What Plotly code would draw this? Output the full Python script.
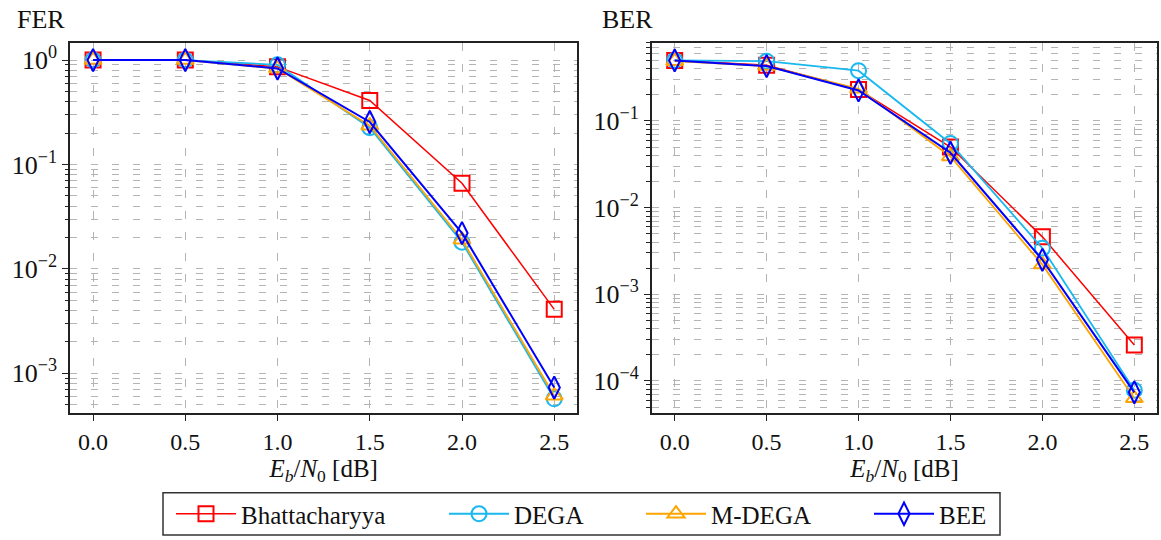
import plotly.graph_objects as go

W, H = 1161, 540

ebn0 = [0.0, 0.5, 1.0, 1.5, 2.0, 2.5]
x_ticks = [0.0, 0.5, 1.0, 1.5, 2.0, 2.5]
x_ticktext = ["0.0", "0.5", "1.0", "1.5", "2.0", "2.5"]

fer_bhatt = [1.0, 1.0, 0.86, 0.41, 0.066, 0.0041]
fer_dega = [1.0, 1.0, 0.90, 0.225, 0.018, 0.00057]
fer_mdega = [1.0, 1.0, 0.83, 0.235, 0.019, 0.00061]
fer_bee = [1.0, 1.0, 0.83, 0.255, 0.022, 0.00073]

ber_bhatt = [0.50, 0.44, 0.23, 0.050, 0.0046, 0.00026]
ber_dega = [0.50, 0.49, 0.38, 0.055, 0.0034, 0.000078]
ber_mdega = [0.49, 0.43, 0.235, 0.039, 0.0022, 0.000063]
ber_bee = [0.50, 0.43, 0.225, 0.043, 0.0025, 0.000074]

names = ["Bhattacharyya", "DEGA", "M-DEGA", "BEE"]
colors = ["#ff0000", "#1ab8f0", "#ffa500", "#0000ff"]
symbols = ["square-open", "circle-open", "triangle-up-open", "diamond-tall-open"]
sizes = [15, 15, 15, 16]
widths = [1.5, 1.8, 1.8, 2.0]

fer_ticks = [1, 0.1, 0.01, 0.001]
fer_ticktext = ["10<sup>0</sup>", "10<sup>−1</sup>", "10<sup>−2</sup>", "10<sup>−3</sup>"]
ber_ticks = [0.1, 0.01, 0.001, 0.0001]
ber_ticktext = ["10<sup>−1</sup>", "10<sup>−2</sup>", "10<sup>−3</sup>", "10<sup>−4</sup>"]
decades = [1e-5, 1e-4, 1e-3, 1e-2, 1e-1, 1]
digits = [2, 3, 4, 5, 6, 7, 8, 9]
minor_vals = [d * m for d in decades for m in digits]

FONT = "Liberation Serif"
GRID = "#b4b4b4"

fig = go.Figure()
fer_series = [fer_bhatt, fer_dega, fer_mdega, fer_bee]
ber_series = [ber_bhatt, ber_dega, ber_mdega, ber_bee]
legend_ids = ["legend", "legend2", "legend3", "legend4"]
for i in range(4):
    fig.add_trace(go.Scatter(
        x=ebn0, y=fer_series[i], name=names[i], mode="lines+markers",
        line=dict(color=colors[i], width=widths[i]),
        marker=dict(symbol=symbols[i], size=sizes[i], color=colors[i],
                    line=dict(width=2, color=colors[i])),
        xaxis="x", yaxis="y", legend=legend_ids[i], showlegend=True))
for i in range(4):
    fig.add_trace(go.Scatter(
        x=ebn0, y=ber_series[i], name=names[i], mode="lines+markers",
        line=dict(color=colors[i], width=widths[i]),
        marker=dict(symbol=symbols[i], size=sizes[i], color=colors[i],
                    line=dict(width=2, color=colors[i])),
        xaxis="x2", yaxis="y2", showlegend=False))

xlabel = "<i>E</i><sub><i>b</i></sub>/<i>N</i><sub>0</sub> [dB]"

def xaxis_cfg(domain, anchor):
    return dict(
        domain=domain, anchor=anchor, range=[-0.125, 2.625],
        tickmode="array", tickvals=x_ticks, ticktext=x_ticktext,
        ticks="outside", ticklen=6, tickwidth=1.3, tickcolor="#222",
        showline=True, linecolor="#222", linewidth=1.5, mirror=True,
        showgrid=True, gridcolor=GRID, gridwidth=1.3, griddash="8px,13px",
        zeroline=False, automargin=False, ticklabelstandoff=0,
        title=dict(text=xlabel, standoff=2,
                   font=dict(family=FONT, size=25, color="#111")),
        tickfont=dict(family=FONT, size=24, color="#111"))

def yaxis_cfg(domain, anchor, rng, tv, tt):
    return dict(
        domain=domain, anchor=anchor, type="log", range=rng,
        tickmode="array", tickvals=tv, ticktext=tt,
        ticks="outside", ticklen=6, tickwidth=1.3, tickcolor="#222",
        showline=True, linecolor="#222", linewidth=1.5, mirror=True,
        showgrid=True, gridcolor=GRID, gridwidth=1.3, griddash="7px,14px",
        zeroline=False, automargin=False,
        minor=dict(tickmode="array", tickvals=minor_vals, ticks="outside",
                   ticklen=3.5, tickwidth=1.0, tickcolor="#222",
                   showgrid=True, gridcolor=GRID, gridwidth=1.3, griddash="7px,14px"),
        tickfont=dict(family=FONT, size=26, color="#111"))

ytop = 1 - 42.7 / H
ybot = 1 - 413.3 / H

fig.update_layout(
    width=W, height=H, margin=dict(l=0, r=0, t=0, b=0, autoexpand=False),
    paper_bgcolor="white", plot_bgcolor="white",
    font=dict(family=FONT, size=24, color="#111"),
    xaxis=xaxis_cfg([70 / W, 577.3 / W], "y"),
    yaxis=yaxis_cfg([ybot, ytop], "x", [-3.383, 0.166], fer_ticks, fer_ticktext),
    xaxis2=xaxis_cfg([651.7 / W, 1157.3 / W], "y2"),
    yaxis2=yaxis_cfg([ybot, ytop], "x2", [-4.373, -0.097], ber_ticks, ber_ticktext),
    annotations=[
        dict(text="FER", x=15 / W, y=1 - 19 / H, xref="paper", yref="paper",
             xanchor="left", yanchor="middle", showarrow=False,
             font=dict(family=FONT, size=26, color="#111")),
        dict(text="BER", x=600 / W, y=1 - 19 / H, xref="paper", yref="paper",
             xanchor="left", yanchor="middle", showarrow=False,
             font=dict(family=FONT, size=26, color="#111")),
    ],
    shapes=[dict(type="rect", xref="paper", yref="paper",
                 x0=163 / W, x1=1000 / W, y0=1 - 535 / H, y1=1 - 492.7 / H,
                 line=dict(color="#333", width=1.5), fillcolor="rgba(0,0,0,0)")],
)

leg_centers = [198, 471, 668, 896]
for lid, cx in zip(legend_ids, leg_centers):
    fig.update_layout({lid: dict(
        x=(cx - 27) / W, y=1 - 514 / H, xanchor="left", yanchor="middle",
        xref="paper", yref="paper", orientation="h", itemwidth=60,
        bgcolor="rgba(0,0,0,0)", borderwidth=0,
        font=dict(family=FONT, size=25, color="#111"))})

fig.write_html("out.html", config={"displayModeBar": False},
               post_script="document.body.style.margin='0';")
